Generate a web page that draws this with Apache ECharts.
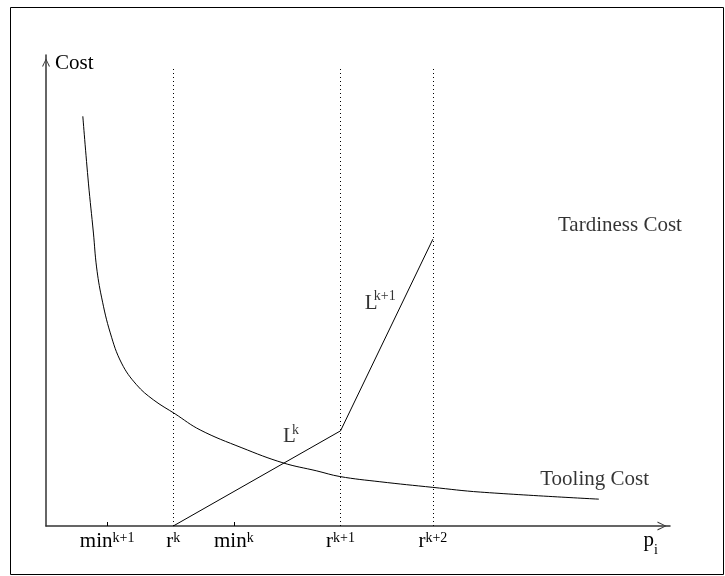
<!DOCTYPE html>
<html>
<head>
<meta charset="utf-8">
<script src="https://cdn.jsdelivr.net/npm/echarts@6/dist/echarts.min.js"></script>
<style>
html,body{margin:0;padding:0;background:#fff;}
#chart{width:725px;height:576px;}
</style>
</head>
<body>
<div id="chart"></div>
<script>
// ---- data ----
const toolingX = [5.9, 6.8, 7.6, 8.1, 8.9, 10.3, 12.1, 14.5, 17.2, 20.7, 24.7, 31.4, 38.0, 43.4, 47.1, 53.5, 62.0, 69.6, 88.6];
const toolingY = [87.0, 72.8, 62.2, 55.0, 48.6, 41.0, 34.6, 30.0, 26.8, 23.8, 20.4, 16.6, 13.4, 11.7, 10.5, 9.4, 8.2, 7.2, 5.7];
const tardinessX = [20.4, 47.2, 62.0];
const tardinessY = [0, 20.2, 60.9];
const breakPoints = [20.4, 47.2, 62.0];          // r^k, r^{k+1}, r^{k+2}
const breakTop = 97.2;
const tickValues = [9.8, 20.4, 30.1, 47.2, 62.0];
const tickLabels = ['{b|min}{s|k+1}', '{b|r}{s|k}', '{b|min}{s|k}', '{b|r}{s|k+1}', '{b|r}{s|k+2}'];
const minTicks = [9.8, 30.1];
const annotationText = ['{t|Tardiness Cost}', '{t|Tooling Cost}', '{L|L}{s|k}', '{L|L}{s|k+1}'];

const FF = 'Liberation Serif';
const anchors = [[82.05, 63.8], [79.2, 9.9], [38.0, 18.9], [51.1, 47.3]];

const chart = echarts.init(document.getElementById('chart'), null, {renderer: 'canvas'});
const chevron = 'path://M50,0 L100,100 L86,100 L50,18 L14,100 L0,100 Z';

const option = {
  animation: false,
  backgroundColor: '#fff',
  graphic: [{
    type: 'rect', silent: true,
    shape: {x: 10.5, y: 7.5, width: 713, height: 567},
    style: {fill: 'none', stroke: '#000', lineWidth: 1}
  }],
  grid: {left: 46, right: 55, top: 55, bottom: 50, containLabel: false},
  xAxis: {
    type: 'value', min: 0, max: 100,
    splitLine: {show: false},
    axisLine: {
      show: true, onZero: false,
      lineStyle: {color: '#333', width: 1.5},
      symbol: ['none', chevron], symbolSize: [9, 16], symbolOffset: [0, -8]
    },
    axisTick: {show: true, inside: true, length: 4, customValues: minTicks, lineStyle: {color: '#000', width: 1}},
    axisLabel: {
      show: true, margin: 5, customValues: tickValues,
      formatter: function (v) {
        let best = 0;
        for (let i = 0; i < tickValues.length; i++) if (Math.abs(tickValues[i] - v) < Math.abs(tickValues[best] - v)) best = i;
        return tickLabels[best];
      },
      rich: {
        b: {fontFamily: FF, fontSize: 21, lineHeight: 21, color: '#000', verticalAlign: 'bottom'},
        s: {fontFamily: FF, fontSize: 14, lineHeight: 14, color: '#000', verticalAlign: 'top'}
      }
    },
    name: '{p|p}{i|i}', nameLocation: 'end', nameGap: -12,
    nameTextStyle: {
      align: 'right', verticalAlign: 'top', padding: [4, 0, 0, 0],
      rich: {
        p: {fontFamily: FF, fontSize: 21, color: '#000', verticalAlign: 'top'},
        i: {fontFamily: FF, fontSize: 14, color: '#000', verticalAlign: 'bottom', padding: [13, 0, 0, 0]}
      }
    }
  },
  yAxis: {
    type: 'value', min: 0, max: 100,
    splitLine: {show: false},
    axisTick: {show: false},
    axisLabel: {show: false},
    axisLine: {
      show: true, onZero: false,
      lineStyle: {color: '#333', width: 1.5},
      symbol: ['none', chevron], symbolSize: [8, 15], symbolOffset: [0, -7.5]
    },
    name: 'Cost', nameLocation: 'end', nameGap: -8,
    nameTextStyle: {fontFamily: FF, fontSize: 21, color: '#000', align: 'left', verticalAlign: 'middle', padding: [0, 0, 0, 9]}
  },
  series: [
    {
      name: 'Tooling Cost', type: 'line',
      data: toolingX.map((x, i) => [x, toolingY[i]]),
      smooth: 0.4, showSymbol: false, symbol: 'none',
      lineStyle: {color: '#000', width: 1}, silent: true
    },
    {
      name: 'Tardiness Cost', type: 'line',
      data: tardinessX.map((x, i) => [x, tardinessY[i]]),
      showSymbol: false, symbol: 'none',
      lineStyle: {color: '#000', width: 1}, silent: true,
      markLine: {
        silent: true, symbol: ['none', 'none'], animation: false,
        label: {show: false},
        lineStyle: {color: '#000', width: 1, type: [1, 3]},
        data: breakPoints.map(r => [{coord: [r, 0]}, {coord: [r, breakTop]}])
      }
    },
    {
      name: 'labels', type: 'scatter', symbolSize: 0, silent: true,
      data: anchors.map((a, i) => ({value: a, text: annotationText[i]})),
      label: {
        show: true, position: 'right', distance: 0,
        formatter: p => p.data.text,
        rich: {
          t: {fontFamily: FF, fontSize: 21, color: '#000'},
          L: {fontFamily: FF, fontSize: 21, lineHeight: 28, color: '#000', width: 9},
          s: {fontFamily: FF, fontSize: 14, lineHeight: 14, color: '#000', verticalAlign: 'top'}
        }
      }
    }
  ]
};
chart.setOption(option);
</script>
</body>
</html>
